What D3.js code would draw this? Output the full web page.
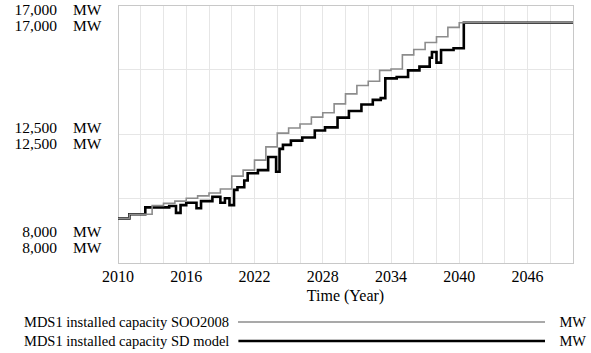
<!DOCTYPE html>
<html><head><meta charset="utf-8">
<script src="https://cdn.jsdelivr.net/npm/d3@7"></script>
<style>
body{margin:0;background:#fff}
svg{display:block}
text{font-family:"Liberation Serif","Times New Roman",serif;fill:#000}
</style>
</head><body>
<svg id="c" width="591" height="353"></svg>
<script>
// ---- data ----
const xTicks = [2010, 2016, 2022, 2028, 2034, 2040, 2046];
const yTicks = [8000, 12500, 17000];
const yTickLabels = ["8,000", "12,500", "17,000"];
const unitLabel = "MW";
const xTitle = "Time (Year)";
const seriesNames = ["MDS1 installed capacity SOO2008", "MDS1 installed capacity SD model"];

const sooYears  = [2010, 2011, 2013, 2014, 2015, 2016, 2017, 2018, 2019, 2020, 2021, 2022, 2023, 2024, 2025, 2026, 2027, 2028, 2029, 2030, 2031, 2032, 2033, 2034, 2035, 2036, 2037, 2038, 2039, 2040, 2050];
const sooValues = [9550, 9700, 10000, 10080, 10160, 10260, 10340, 10440, 10580, 11030, 11240, 11590, 12050, 12530, 12710, 12850, 13090, 13240, 13550, 13900, 14190, 14340, 14720, 14770, 15260, 15450, 15690, 15890, 16220, 16380, 16380];

const sdYears  = [2010, 2011, 2012.4, 2014.5, 2015.1, 2015.5, 2016.0, 2016.9, 2017.3, 2018.3, 2019.0, 2019.4, 2019.8, 2020.2, 2020.5, 2021.1, 2021.4, 2022.3, 2023.2, 2023.9, 2024.2, 2024.5, 2025.2, 2026.2, 2027.3, 2028.2, 2029.3, 2030.3, 2031.4, 2032.4, 2033.1, 2033.5, 2034.5, 2035.5, 2036.5, 2037.4, 2037.6, 2038.0, 2038.4, 2039.5, 2040.4, 2050];
const sdValues = [9550, 9700, 9940, 9990, 9750, 10020, 10100, 9910, 10160, 10310, 10100, 10260, 10020, 10550, 10640, 10880, 11130, 11240, 11700, 11185, 11980, 12120, 12270, 12380, 12620, 12730, 13070, 13300, 13530, 13690, 13750, 14440, 14490, 14720, 14850, 15160, 15360, 14990, 15430, 15490, 16380, 16380];

// ---- layout ----
const svg = d3.select("#c");
const L = 118, R = 573, T = 5, B = 263;
const x = d3.scaleLinear().domain([2010, 2050]).range([L, R]);
const y = d3.scaleLinear().domain([8000, 17000]).range([B, T]);

// grid
const g = svg.append("g");
g.selectAll("line.vg").data(d3.range(2012, 2050, 2)).join("line")
  .attr("x1", d => x(d)).attr("x2", d => x(d)).attr("y1", T).attr("y2", B)
  .attr("stroke", "#e6e6e6").attr("stroke-width", 1).attr("shape-rendering", "crispEdges");
g.selectAll("line.hg").data([10250, 12500, 14750]).join("line")
  .attr("x1", L).attr("x2", R).attr("y1", d => y(d)).attr("y2", d => y(d))
  .attr("stroke", "#e6e6e6").attr("stroke-width", 1).attr("shape-rendering", "crispEdges");
g.append("rect").attr("x", L + 0.5).attr("y", T + 0.5).attr("width", R - L).attr("height", B - T)
  .attr("fill", "none").attr("stroke", "#c8c8c8").attr("stroke-width", 1);

// lines
const line = d3.line().x(d => x(d[0])).y(d => y(d[1])).curve(d3.curveStepAfter);
const sd = sdYears.map((t, i) => [t, sdValues[i]]);
const soo = sooYears.map((t, i) => [t, sooValues[i]]);
svg.append("path").attr("d", line(sd)).attr("fill", "none").attr("stroke", "#000").attr("stroke-width", 2.6);
svg.append("path").attr("d", line(soo)).attr("fill", "none").attr("stroke", "#8c8c8c").attr("stroke-width", 1.6);

// y labels (two per tick, one per series)
const yOffsets = {8000: [-25.7, -9.7], 12500: [-1.5, 14.5], 17000: [10, 26]};
yTicks.forEach((t, i) => {
  yOffsets[t].forEach(off => {
    svg.append("text").attr("x", 57).attr("y", y(t) + off).attr("text-anchor", "end")
      .attr("font-size", 15.5).text(yTickLabels[i]);
    svg.append("text").attr("x", 73).attr("y", y(t) + off).attr("text-anchor", "start")
      .attr("font-size", 15.5).text(unitLabel);
  });
});

// x tick labels
svg.selectAll("text.xt").data(xTicks).join("text")
  .attr("x", d => x(d)).attr("y", 282).attr("text-anchor", "middle").attr("font-size", 16)
  .text(d => d);
svg.append("text").attr("x", (L + R) / 2).attr("y", 301).attr("text-anchor", "middle")
  .attr("font-size", 16).text(xTitle);

// legend
const legY = [327, 346];
const legStroke = [["#8c8c8c", 1.6], ["#000", 2.6]];
seriesNames.forEach((name, i) => {
  const t = svg.append("text").attr("x", 24).attr("y", legY[i]).attr("font-size", 14.5).text(name);
  const w = t.node().getComputedTextLength();
  svg.append("line").attr("x1", 24 + w + 9).attr("x2", 545)
    .attr("y1", legY[i] - 5).attr("y2", legY[i] - 5)
    .attr("stroke", legStroke[i][0]).attr("stroke-width", legStroke[i][1]);
  svg.append("text").attr("x", 586).attr("y", legY[i]).attr("text-anchor", "end")
    .attr("font-size", 14.5).text(unitLabel);
});
</script>
</body></html>
